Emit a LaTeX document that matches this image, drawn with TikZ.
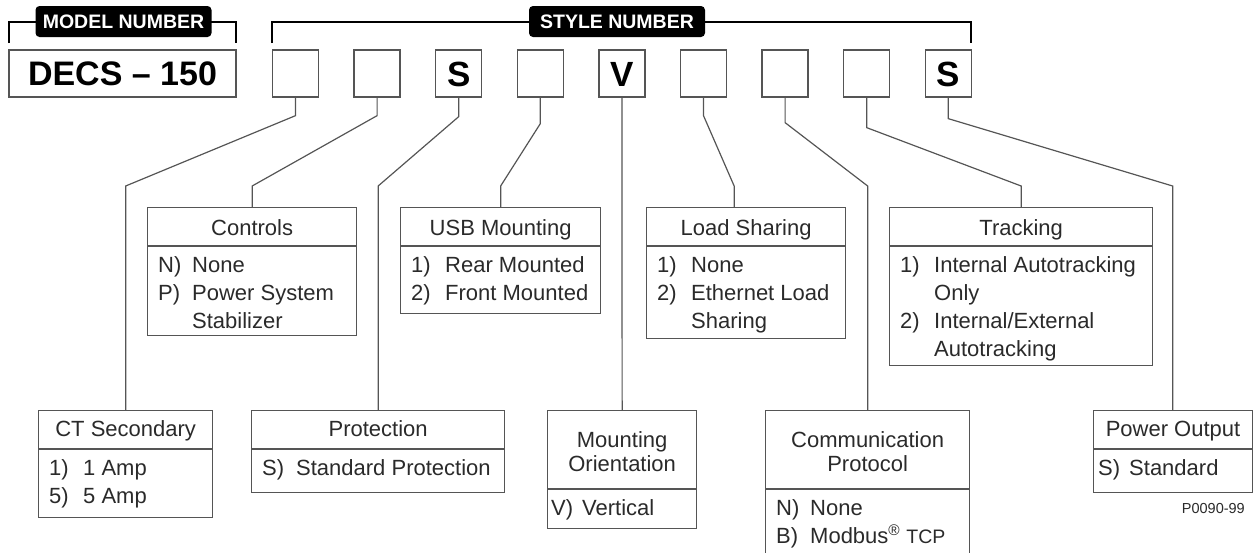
\documentclass[tikz,border=0pt]{standalone}
\usepackage{fontspec}
\setmainfont{Liberation Sans}
\usetikzlibrary{calc}
\definecolor{bord}{HTML}{555555}
\definecolor{txt}{HTML}{2A2A2A}
\newcommand\itlab[1]{\makebox[34pt][l]{#1}}
\begin{document}
\begin{tikzpicture}[x=1pt,y=-1pt,
  bracket/.style={draw=black,line width=2.2pt},
  hdr/.style={fill=black,rounded corners=4pt,text=white,inner sep=0pt,minimum width=176pt,minimum height=31pt,text height=13.8pt,text depth=0pt,font=\fontsize{19.5}{20}\bfseries\selectfont},
  mbox/.style={draw=bord,line width=1.3pt,inner sep=0pt,minimum width=227pt,minimum height=47pt,text height=24.5pt,text depth=0pt,font=\fontsize{34}{34}\bfseries\selectfont},
  sbox/.style={draw=bord,line width=1.3pt,inner sep=0pt,minimum width=46pt,minimum height=47pt,text height=25pt,text depth=0pt,font=\fontsize{35}{35}\bfseries\selectfont},
  obox/.style={draw=bord,line width=1.3pt,inner sep=0pt,anchor=north west},
  dline/.style={draw=bord,line width=1.3pt},
  conn/.style={draw=bord,line width=1.2pt},
  ttl/.style={anchor=base,inner sep=0pt,text=txt,font=\fontsize{22}{24}\selectfont},
  itm/.style={anchor=base west,inner sep=0pt,text=txt,font=\fontsize{22}{28}\selectfont},
]
\useasboundingbox (0,0) rectangle (1253,552);
% header brackets
\draw[bracket] (9,43) -- (9,22) -- (236,22) -- (236,43);
\draw[bracket] (272,43) -- (272,22) -- (971,22) -- (971,43);
\node[hdr] (mnl) at (123.5,21.5) {MODEL NUMBER};
\node[hdr] (snl) at (617,21.5) {STYLE NUMBER};
% model box
\node[mbox] (model) at (122.5,73.5) {DECS – 150};
% style boxes
\node[sbox] (s1) at (295.5,73.5) {};
\node[sbox] (s2) at (377.1,73.5) {};
\node[sbox] (s3) at (458.7,73.5) {S};
\node[sbox] (s4) at (540.3,73.5) {};
\node[sbox] (s5) at (621.9,73.5) {V};
\node[sbox] (s6) at (703.5,73.5) {};
\node[sbox] (s7) at (785.1,73.5) {};
\node[sbox] (s8) at (866.7,73.5) {};
\node[sbox] (s9) at (948.3,73.5) {S};

% ---- middle boxes ----
\node[obox,minimum width=209pt,minimum height=128pt] (ctrl) at (147,207) {};
\draw[dline] (ctrl.west |- 0,246) -- (ctrl.east |- 0,246);
\node[ttl] (ctrlT) at (ctrl.north |- 0,235) {Controls};
\node[itm] (ctrlI) at (158,272) {\begin{tabular}[t]{@{}l@{}}\itlab{N)}None\\ \itlab{P)}Power System\\ \itlab{}Stabilizer\end{tabular}};

\node[obox,minimum width=200pt,minimum height=106pt] (usb) at (400,207) {};
\draw[dline] (usb.west |- 0,246) -- (usb.east |- 0,246);
\node[ttl] (usbT) at (usb.north |- 0,235) {USB Mounting};
\node[itm] (usbI) at (411,272) {\begin{tabular}[t]{@{}l@{}}\itlab{1)}Rear Mounted\\ \itlab{2)}Front Mounted\end{tabular}};

\node[obox,minimum width=199pt,minimum height=131pt] (load) at (646,207) {};
\draw[dline] (load.west |- 0,246) -- (load.east |- 0,246);
\node[ttl] (loadT) at (load.north |- 0,235) {Load Sharing};
\node[itm] (loadI) at (657,272) {\begin{tabular}[t]{@{}l@{}}\itlab{1)}None\\ \itlab{2)}Ethernet Load\\ \itlab{}Sharing\end{tabular}};

\node[obox,minimum width=263pt,minimum height=158pt] (trk) at (889,207) {};
\draw[dline] (trk.west |- 0,246) -- (trk.east |- 0,246);
\node[ttl] (trkT) at (trk.north |- 0,235) {Tracking};
\node[itm] (trkI) at (900,272) {\begin{tabular}[t]{@{}l@{}}\itlab{1)}Internal Autotracking\\ \itlab{}Only\\ \itlab{2)}Internal/External\\ \itlab{}Autotracking\end{tabular}};

% ---- bottom boxes ----
\node[obox,minimum width=174pt,minimum height=107pt] (ct) at (38,410) {};
\draw[dline] (ct.west |- 0,449) -- (ct.east |- 0,449);
\node[ttl] (ctT) at (ct.north |- 0,436) {CT Secondary};
\node[itm] (ctI) at (49,475) {\begin{tabular}[t]{@{}l@{}}\itlab{1)}1 Amp\\ \itlab{5)}5 Amp\end{tabular}};

\node[obox,minimum width=253pt,minimum height=82pt] (prot) at (251,410) {};
\draw[dline] (prot.west |- 0,449) -- (prot.east |- 0,449);
\node[ttl] (protT) at (prot.north |- 0,436) {Protection};
\node[itm] (protI) at (262,475) {\itlab{S)}Standard Protection};

\node[obox,minimum width=149pt,minimum height=118pt] (mnt) at (547,410) {};
\draw[dline] (mnt.west |- 0,489) -- (mnt.east |- 0,489);
\node[ttl] (mntT) at (mnt.north |- 0,447) {\begin{tabular}[t]{@{}c@{}}Mounting\\ Orientation\end{tabular}};
\node[itm] (mntI) at (551,515) {\makebox[31pt][l]{V)}Vertical};

\node[obox,minimum width=204pt,minimum height=146pt] (comm) at (765,410) {};
\draw[dline] (comm.west |- 0,489) -- (comm.east |- 0,489);
\node[ttl] (commT) at (comm.north |- 0,447) {\begin{tabular}[t]{@{}c@{}}Communication\\ Protocol\end{tabular}};
\node[itm] (commI) at (776,515) {\begin{tabular}[t]{@{}l@{}}\itlab{N)}None\\ \itlab{B)}Modbus\textsuperscript{®} {\fontsize{19.5}{28}\selectfont TCP}\end{tabular}};

\node[obox,minimum width=159pt,minimum height=82pt] (pwr) at (1093,410) {};
\draw[dline] (pwr.west |- 0,449) -- (pwr.east |- 0,449);
\node[ttl] (pwrT) at (1173,436) {Power Output};
\node[itm] (pwrI) at (1098,475) {\makebox[31pt][l]{S)}Standard};

\node[anchor=base east,inner sep=0pt,text=txt,font=\fontsize{14.5}{15}\selectfont] (pnum) at (1245,513) {P0090-99};

% ---- connectors ----
\draw[conn] (s1.south) -- ++(0,18) -- ([yshift=224pt]ct.north) -- (ct.north);
\draw[conn] (s2.south) -- ++(0,18) -- ([yshift=21pt]ctrl.north) -- (ctrl.north);
\draw[conn] (s3.south) -- ++(0,19) -- ([yshift=224pt]prot.north) -- (prot.north);
\draw[conn] (s4.south) -- ++(0,26) -- ([yshift=21pt]usb.north) -- (usb.north);
\draw[conn] (s5.south) -- (mnt.north);
\draw[conn] (s6.south) -- ++(0,18) -- ([xshift=-12pt,yshift=21pt]load.north) -- ([xshift=-12pt]load.north);
\draw[conn] (s7.south) -- ++(0,25) -- ([yshift=224pt]comm.north) -- (comm.north);
\draw[conn] (s8.south) -- ++(0,30) -- ([yshift=21pt]trk.north) -- (trk.north);
\draw[conn] (s9.south) -- ++(0,21) -- ([xshift=-0.5pt,yshift=224pt]pwr.north) -- ([xshift=-0.5pt]pwr.north);
\end{tikzpicture}
\end{document}
